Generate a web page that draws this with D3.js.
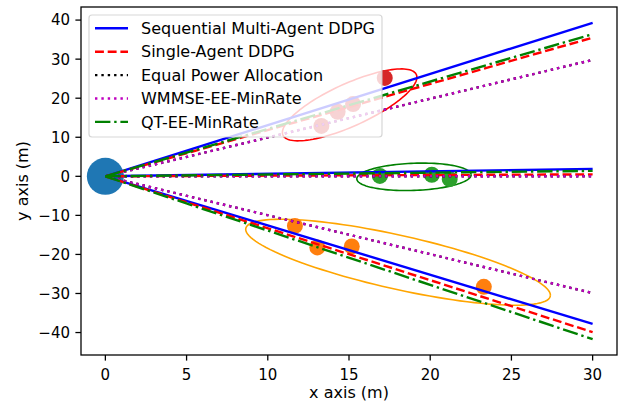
<!DOCTYPE html>
<html>
<head>
<meta charset="utf-8">
<script src="https://cdn.jsdelivr.net/npm/d3@7"></script>
<style>
  body { margin: 0; background: #fff; }
  svg { font-family: "DejaVu Sans", sans-serif; }
</style>
</head>
<body>
<script>
// ---------------------------------------- data ----------------------------------------
var algorithms = [
  "Sequential Multi-Agent DDPG",
  "Single-Agent DDPG",
  "Equal Power Allocation",
  "WMMSE-EE-MinRate",
  "QT-EE-MinRate"
];
// every beam starts at the base station (0,0) and ends at x = 30
var beamStartX = 0, beamEndX = 30;
var upperBeamEnd = [39.3, 35.5, 29.8, 29.8, 36.4];
var middleBeamEnd = [1.9, 0.5, 0, 0, 1.4];
var lowerBeamEnd = [-37.8, -39.9, -29.9, -29.9, -41.7];

var baseStation = [[0, 0]];
var usersUpper = [[17.2, 25.2], [15.25, 18.5], [14.3, 16.5], [13.3, 12.9]];
var usersMiddle = [[16.9, 0.1], [20.1, 0.4], [21.2, -0.7]];
var usersLower = [[11.67, -12.7], [13.05, -18.2], [15.17, -17.95], [23.3, -28.3]];

// cluster ellipses: centre and two conjugate half-axes (data units)
var ellipseCenters = [[15.04, 18.29], [19.0, -0.13], [18.02, -22.0]];
var ellipseU = [[4.14, 7.06], [3.52, 0.51], [9.38, -8.44]];
var ellipseV = [[0, -5.91], [0, -3.48], [0, -7.06]];

var xTicks = [0, 5, 10, 15, 20, 25, 30];
var yTicks = [-40, -30, -20, -10, 0, 10, 20, 30, 40];

// ---------------------------------------- styles ----------------------------------------
var lineColors = ["#0000ff", "#ff0000", "#000000", "#bf00bf", "#008000"];
var lineDashes = [null, "8.9,3.8", "2.4,3.96", "2.4,3.96", "15.4,3.8,2.4,3.8"];
var ellipseColors = ["red", "green", "orange"];
var userColors = ["#d62728", "#2ca02c", "#ff7f0e"];
var lineWidth = 2.4;

var width = 622, height = 408;
var mLeft = 81, mRight = 617, mTop = 7, mBottom = 355;
var tickFont = 15, labelFont = 16;

var svg = d3.select("body").append("svg")
  .attr("width", width)
  .attr("height", height);

// scales with matplotlib-like 5% margins
var allY = upperBeamEnd.concat(middleBeamEnd, lowerBeamEnd, [0]);
var yMin = d3.min(allY), yMax = d3.max(allY);
var xPad = (beamEndX - beamStartX) * 0.05, yPad = (yMax - yMin) * 0.05;

var x = d3.scaleLinear().domain([beamStartX - xPad, beamEndX + xPad]).range([mLeft, mRight]);
var y = d3.scaleLinear().domain([yMin - yPad, yMax + yPad]).range([mBottom, mTop]);

// ---------------------------------------- ellipses ----------------------------------------
var ellipseLine = d3.line().x(function (d) { return x(d[0]); }).y(function (d) { return y(d[1]); });
ellipseCenters.forEach(function (c, i) {
  var pts = d3.range(0, 361, 3).map(function (deg) {
    var t = deg * Math.PI / 180;
    return [c[0] + ellipseU[i][0] * Math.cos(t) + ellipseV[i][0] * Math.sin(t),
            c[1] + ellipseU[i][1] * Math.cos(t) + ellipseV[i][1] * Math.sin(t)];
  });
  svg.append("path")
    .attr("d", ellipseLine(pts))
    .attr("fill", "none")
    .attr("stroke", ellipseColors[i])
    .attr("stroke-width", 1.6);
});

// ---------------------------------------- users ----------------------------------------
svg.selectAll(".bs").data(baseStation).enter().append("circle")
  .attr("cx", function (d) { return x(d[0]); })
  .attr("cy", function (d) { return y(d[1]); })
  .attr("r", 18.5)
  .attr("fill", "#1f77b4");

[usersUpper, usersMiddle, usersLower].forEach(function (grp, i) {
  svg.append("g").selectAll("circle").data(grp).enter().append("circle")
    .attr("cx", function (d) { return x(d[0]); })
    .attr("cy", function (d) { return y(d[1]); })
    .attr("r", 8)
    .attr("fill", userColors[i]);
});

// ---------------------------------------- beams ----------------------------------------
algorithms.forEach(function (name, i) {
  [upperBeamEnd, middleBeamEnd, lowerBeamEnd].forEach(function (ends) {
    svg.append("line")
      .attr("x1", x(beamStartX)).attr("y1", y(0))
      .attr("x2", x(beamEndX)).attr("y2", y(ends[i]))
      .attr("stroke", lineColors[i])
      .attr("stroke-width", lineWidth)
      .attr("stroke-dasharray", lineDashes[i]);
  });
});

// ---------------------------------------- axes ----------------------------------------
var xAxis = svg.append("g");
xTicks.forEach(function (t) {
  xAxis.append("line").attr("x1", x(t)).attr("x2", x(t))
    .attr("y1", mBottom).attr("y2", mBottom + 5.6)
    .attr("stroke", "#000").attr("stroke-width", 1.28);
  xAxis.append("text").attr("x", x(t)).attr("y", mBottom + 25)
    .attr("text-anchor", "middle").attr("font-size", tickFont)
    .text(String(t).replace("-", "\u2212"));
});
var yAxis = svg.append("g");
yTicks.forEach(function (t) {
  yAxis.append("line").attr("x1", mLeft - 5.6).attr("x2", mLeft)
    .attr("y1", y(t)).attr("y2", y(t))
    .attr("stroke", "#000").attr("stroke-width", 1.28);
  yAxis.append("text").attr("x", mLeft - 11).attr("y", y(t))
    .attr("dy", "0.36em")
    .attr("text-anchor", "end").attr("font-size", tickFont)
    .text(String(t).replace("-", "\u2212"));
});

svg.append("text")
  .attr("x", (mLeft + mRight) / 2).attr("y", 398)
  .attr("text-anchor", "middle").attr("font-size", labelFont)
  .text("x axis (m)");
svg.append("text")
  .attr("transform", "translate(28," + (mTop + mBottom) / 2 + ") rotate(-90)")
  .attr("text-anchor", "middle").attr("font-size", labelFont)
  .text("y axis (m)");

// ---------------------------------------- legend ----------------------------------------
var legend = svg.append("g");
legend.append("rect")
  .attr("x", 89).attr("y", 15).attr("width", 293).attr("height", 122)
  .attr("rx", 3).attr("ry", 3)
  .attr("fill", "#fff").attr("fill-opacity", 0.8)
  .attr("stroke", "#cccccc").attr("stroke-opacity", 0.8).attr("stroke-width", 1.2);
algorithms.forEach(function (name, i) {
  var ly = 28.3 + i * 23.4;
  legend.append("line")
    .attr("x1", 95).attr("x2", 128).attr("y1", ly).attr("y2", ly)
    .attr("stroke", lineColors[i]).attr("stroke-width", lineWidth)
    .attr("stroke-dasharray", lineDashes[i]);
  legend.append("text")
    .attr("x", 141).attr("y", ly).attr("dy", "0.36em")
    .attr("font-size", labelFont)
    .text(name);
});

// frame
svg.append("rect")
  .attr("x", mLeft).attr("y", mTop)
  .attr("width", mRight - mLeft).attr("height", mBottom - mTop)
  .attr("fill", "none").attr("stroke", "#000").attr("stroke-width", 1.28);
</script>
</body>
</html>
